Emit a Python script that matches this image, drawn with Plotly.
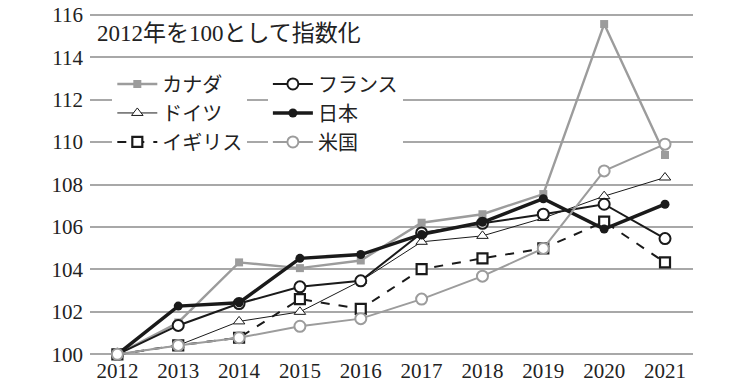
import plotly.graph_objects as go

years = [2012, 2013, 2014, 2015, 2016, 2017, 2018, 2019, 2020, 2021]
canada = [100, 101.5, 104.33, 104.06, 104.42, 106.2, 106.6, 107.55, 115.56, 109.39]
germany = [100, 100.42, 101.55, 102.0, 103.46, 105.3, 105.58, 106.42, 107.45, 108.33]
uk = [100, 100.42, 100.78, 102.6, 102.14, 104.01, 104.52, 104.99, 106.25, 104.33]
france = [100, 101.36, 102.39, 103.18, 103.46, 105.72, 106.17, 106.6, 107.07, 105.45]
japan = [100, 102.27, 102.43, 104.52, 104.7, 105.65, 106.22, 107.33, 105.9, 107.07]
usa = [100, 100.42, 100.78, 101.32, 101.68, 102.6, 103.68, 104.99, 108.64, 109.9]

names = {"canada": "カナダ", "germany": "ドイツ", "uk": "イギリス",
         "france": "フランス", "japan": "日本", "usa": "米国"}
title_text = "2012年を100として指数化"
yticks = [100, 102, 104, 106, 108, 110, 112, 114, 116]

GRAY = "#9c9c9c"
BLACK = "#1a1a1a"
FONT = "Liberation Serif, Noto Sans CJK JP, serif"

fig = go.Figure()

def add(y, name, lcolor, lwidth, dash, symbol, msize, mfill, mline_color, mline_w, legend):
    fig.add_trace(go.Scatter(
        x=years, y=y, name=name, mode="lines+markers",
        line=dict(color=lcolor, width=lwidth, dash=dash),
        marker=dict(symbol=symbol, size=msize, color=mfill,
                    line=dict(color=mline_color, width=mline_w)),
        cliponaxis=False, legend=legend))

add(canada, names["canada"], GRAY, 2.4, "solid", "square", 8, GRAY, GRAY, 0, "legend")
add(germany, names["germany"], BLACK, 1, "solid", "triangle-up", 10, "white", BLACK, 1, "legend")
add(uk, names["uk"], BLACK, 2, "dash", "square", 10, "white", BLACK, 2.2, "legend")
add(france, names["france"], BLACK, 2, "solid", "circle", 11, "white", BLACK, 2, "legend2")
add(japan, names["japan"], BLACK, 3.5, "solid", "circle", 9, BLACK, BLACK, 0, "legend2")
add(usa, names["usa"], GRAY, 2, "solid", "circle", 11, "white", GRAY, 2, "legend2")

legend_common = dict(
    orientation="v", bgcolor="white", borderwidth=0,
    font=dict(family=FONT, size=20, color="#222"),
    xanchor="left", yanchor="top", tracegroupgap=0,
    itemwidth=40,
)

fig.update_layout(
    width=750, height=388,
    margin=dict(l=90, r=57, t=13, b=32),
    paper_bgcolor="white", plot_bgcolor="white",
    font=dict(family=FONT, size=21, color="#222"),
    showlegend=True,
    legend=dict(x=0.037, y=0.85, **legend_common),
    legend2=dict(x=0.295, y=0.85, **legend_common),
    xaxis=dict(range=[2011.55, 2021.46], tickvals=years, ticktext=[str(y) for y in years],
               showgrid=False, zeroline=False, showline=False, ticks="", automargin=False,
               tickfont=dict(family=FONT, size=21, color="#222")),
    yaxis=dict(range=[99.92, 116.08], tickvals=yticks, ticktext=[str(v) for v in yticks],
               showgrid=True, gridcolor="#a8a8a8", gridwidth=1.6, automargin=False,
               zeroline=False, showline=False, ticks="", ticklabelstandoff=6,
               tickfont=dict(family=FONT, size=21, color="#222")),
    annotations=[dict(text=title_text, xref="paper", yref="paper", x=0.008, y=0.94,
                      xanchor="left", yanchor="middle", showarrow=False,
                      font=dict(family=FONT, size=23, color="#222"))],
)

fig.write_html("out.html", config={"displayModeBar": False},
               post_script="document.body.style.margin='0';document.body.style.overflow='hidden';")
